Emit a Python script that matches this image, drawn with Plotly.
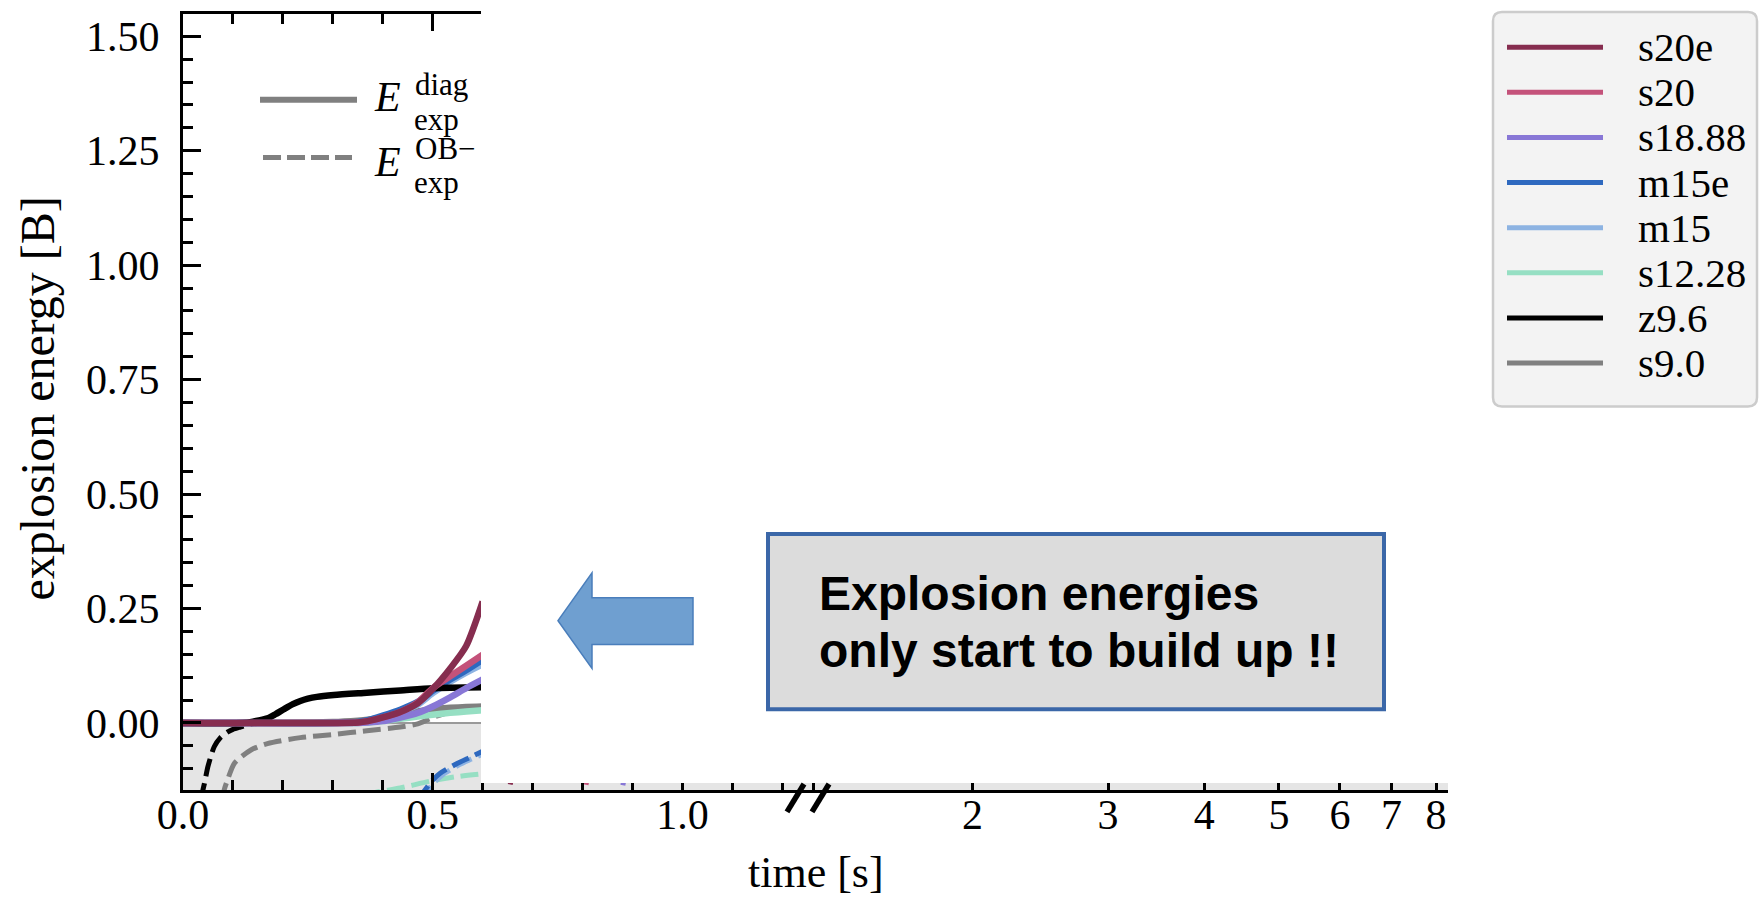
import math
import plotly.graph_objects as go

# ---------------- data ----------------
models = ["s20e", "s20", "s18.88", "m15e", "m15", "s12.28", "z9.6", "s9.0"]
model_colors = ["#862d4f", "#c4527a", "#8877d6", "#2e69bf", "#8db3e2", "#96dfc3", "#000000", "#808080"]

# diagnostic explosion energy E_exp^diag [B] (solid)
t_diag = [0.0, 0.30, 0.35, 0.37, 0.40, 0.435, 0.47, 0.50, 0.535, 0.567, 0.60]
diag_s20e = [0.0, 0.0, 0.001, 0.004, 0.012, 0.024, 0.043, 0.074, 0.119, 0.168, 0.265]
diag_s20 = [0.0, 0.0, 0.001, 0.004, 0.012, 0.024, 0.045, 0.076, 0.102, 0.125, 0.149]
diag_s1888 = [0.0, 0.0, 0.0, 0.001, 0.004, 0.012, 0.022, 0.036, 0.056, 0.076, 0.095]
diag_m15e = [0.0, 0.0, 0.002, 0.006, 0.016, 0.029, 0.046, 0.070, 0.095, 0.115, 0.138]
diag_m15 = [0.0, 0.0, 0.001, 0.004, 0.012, 0.024, 0.040, 0.065, 0.090, 0.110, 0.128]
diag_s1228 = [0.0, 0.0, 0.0, 0.001, 0.004, 0.009, 0.014, 0.018, 0.022, 0.025, 0.028]
diag_s90 = [0.0, 0.002, 0.005, 0.007, 0.012, 0.018, 0.025, 0.030, 0.033, 0.035, 0.036]
t_diag_z96 = [0.0, 0.12, 0.14, 0.169, 0.185, 0.202, 0.22, 0.235, 0.25, 0.268, 0.302, 0.368, 0.435, 0.50, 0.60]
diag_z96 = [0.0, 0.0, 0.003, 0.010, 0.019, 0.030, 0.041, 0.048, 0.053, 0.057, 0.061, 0.066, 0.071, 0.076, 0.078]

# E_exp^OB- [B] (dashed)
t_ob_z96 = [0.036, 0.040, 0.043, 0.050, 0.0625, 0.075, 0.089, 0.10, 0.115, 0.135, 0.16]
ob_z96 = [-0.17, -0.146, -0.132, -0.095, -0.052, -0.032, -0.020, -0.014, -0.009, -0.003, 0.0]
t_ob_s90 = [0.078, 0.0825, 0.089, 0.103, 0.136, 0.169, 0.235, 0.302, 0.368, 0.435, 0.47, 0.50, 0.535, 0.567, 0.60]
ob_s90 = [-0.17, -0.146, -0.125, -0.088, -0.059, -0.045, -0.032, -0.025, -0.017, -0.009, -0.002, 0.012, 0.024, 0.031, 0.035]
t_ob_m15e = [0.47, 0.481, 0.50, 0.515, 0.548, 0.575, 0.60]
ob_m15e = [-0.17, -0.152, -0.125, -0.110, -0.089, -0.075, -0.062]
t_ob_m15 = [0.475, 0.49, 0.50, 0.52, 0.55, 0.575, 0.60]
ob_m15 = [-0.17, -0.148, -0.133, -0.113, -0.093, -0.080, -0.068]
t_ob_s1228 = [0.36, 0.38, 0.435, 0.50, 0.55, 0.60]
ob_s1228 = [-0.16, -0.153, -0.142, -0.126, -0.117, -0.111]
t_ob_s20e = [0.60, 0.63, 0.654, 0.67]
ob_s20e = [-0.40, -0.25, -0.14, -0.06]
t_ob_s20 = [0.75, 0.785, 0.806, 0.82]
ob_s20 = [-0.40, -0.25, -0.14, -0.06]
t_ob_s1888 = [0.82, 0.86, 0.88, 0.895]
ob_s1888 = [-0.40, -0.25, -0.14, -0.06]

y_tickvals = [0.0, 0.25, 0.5, 0.75, 1.0, 1.25, 1.5]
y_ticktext = ["0.00", "0.25", "0.50", "0.75", "1.00", "1.25", "1.50"]
x_lin_tickvals = [0.0, 0.5, 1.0]
x_lin_ticktext = ["0.0", "0.5", "1.0"]
x_log_tickvals = [2, 3, 4, 5, 6, 7, 8]
x_log_ticktext = ["2", "3", "4", "5", "6", "7", "8"]

annotation_lines = ["<b>Explosion energies</b>", "<b>only start to build up !!</b>"]

# ---------------- layout geometry ----------------
W, H = 1764, 899
L, R, T, B = 183, 316, 11, 109
PW, PH = W - L - R, H - T - B
X_BREAK = 812  # px where linear part turns into log part


def X(px):
    return (px - L) / PW


def Y(py):
    return (H - B - py) / PH


SERIF = "Liberation Serif"
fig = go.Figure()

color_of = dict(zip(models, model_colors))
dash_style = "18px,7px"

dashed = [
    ("s9.0", t_ob_s90, ob_s90), ("z9.6", t_ob_z96, ob_z96), ("s12.28", t_ob_s1228, ob_s1228),
    ("m15", t_ob_m15, ob_m15), ("m15e", t_ob_m15e, ob_m15e), ("s18.88", t_ob_s1888, ob_s1888),
    ("s20", t_ob_s20, ob_s20), ("s20e", t_ob_s20e, ob_s20e),
]
for name, tt, ee in dashed:
    fig.add_trace(go.Scatter(x=tt, y=ee, mode="lines", name=name + " OB-", showlegend=False,
                             line=dict(color=color_of[name], width=5, dash=dash_style, shape="spline", smoothing=0.7),
                             hoverinfo="skip"))

solid = [
    ("s9.0", t_diag, diag_s90), ("s12.28", t_diag, diag_s1228), ("m15", t_diag, diag_m15),
    ("m15e", t_diag, diag_m15e), ("z9.6", t_diag_z96, diag_z96), ("s18.88", t_diag, diag_s1888),
    ("s20", t_diag, diag_s20), ("s20e", t_diag, diag_s20e),
]
for name, tt, ee in solid:
    fig.add_trace(go.Scatter(x=tt, y=ee, mode="lines", name=name, showlegend=False,
                             line=dict(color=color_of[name], width=6.5, shape="spline", smoothing=0.7)))

# empty trace to register the log part of the broken axis
fig.add_trace(go.Scatter(x=[], y=[], xaxis="x2", yaxis="y", showlegend=False, hoverinfo="skip"))

tick_font = dict(family=SERIF, size=42, color="black")
common_axis = dict(showline=True, linecolor="black", linewidth=3, mirror="ticks", ticks="inside",
                   tickcolor="black", tickwidth=2.5, showgrid=False, zeroline=False, tickfont=tick_font)

fig.update_layout(
    width=W, height=H, margin=dict(l=L, r=R, t=T, b=B),
    paper_bgcolor="white", plot_bgcolor="white", showlegend=False,
    xaxis=dict(domain=[0, X(X_BREAK)], range=[0, (X_BREAK - L) / 499.4], anchor="y",
               tickvals=x_lin_tickvals, ticktext=x_lin_ticktext, ticklen=17, ticklabelstandoff=-14,
               minor=dict(dtick=0.1, ticks="inside", ticklen=10, tickwidth=2.5, tickcolor="black"),
               **common_axis),
    xaxis2=dict(domain=[X(X_BREAK), 1], type="log",
                range=[0.30103 - (972.5 - X_BREAK) / 770, 0.30103 + (W - R - 972.5) / 770],
                anchor="y", tickvals=x_log_tickvals, ticktext=x_log_ticktext, ticklen=10,
                ticklabelstandoff=-14, **common_axis),
    yaxis=dict(range=[-0.14645, 1.5487], tickvals=y_tickvals, ticktext=y_ticktext, ticklen=18,
               ticklabelstandoff=12,
               minor=dict(dtick=0.05, ticks="inside", ticklen=10, tickwidth=2.5, tickcolor="black"),
               **common_axis),
)

shapes = []
# grey band below zero
shapes.append(dict(type="rect", xref="paper", yref="y", x0=0, x1=1, y0=-0.3, y1=0,
                   fillcolor="#e5e5e5", line=dict(width=0), layer="below"))
shapes.append(dict(type="line", xref="paper", yref="y", x0=0, x1=1, y0=0, y1=0,
                   line=dict(color="#9a9a9a", width=2), layer="below"))
# white cover over the not-yet-shown part of the figure
shapes.append(dict(type="rect", xref="paper", yref="paper", x0=X(481), x1=1.3, y0=Y(783), y1=1.06,
                   fillcolor="white", line=dict(width=0), layer="above"))
# axis break marks
for (xa, ya, xb, yb) in [(787, 812, 804, 784), (812, 812, 829, 784)]:
    shapes.append(dict(type="line", xref="paper", yref="paper", x0=X(xa), y0=Y(ya), x1=X(xb), y1=Y(yb),
                       line=dict(color="black", width=5.5), layer="above"))

# inner legend (line styles)
shapes.append(dict(type="line", xref="paper", yref="paper", x0=X(260), x1=X(357), y0=Y(97), y1=Y(97),
                   line=dict(color="#808080", width=6), layer="above"))
shapes.append(dict(type="line", xref="paper", yref="paper", x0=X(263), x1=X(352), y0=Y(155), y1=Y(155),
                   line=dict(color="#808080", width=5, dash="18px,6px"), layer="above"))

# main legend box (rounded)
lx0, lx1, ly0, ly1, rr = 1493, 1757, 9, 405, 9
path = (f"M {X(lx0 + rr)},{Y(ly0)} L {X(lx1 - rr)},{Y(ly0)} Q {X(lx1)},{Y(ly0)} {X(lx1)},{Y(ly0 + rr)} "
        f"L {X(lx1)},{Y(ly1 - rr)} Q {X(lx1)},{Y(ly1)} {X(lx1 - rr)},{Y(ly1)} "
        f"L {X(lx0 + rr)},{Y(ly1)} Q {X(lx0)},{Y(ly1)} {X(lx0)},{Y(ly1 - rr)} "
        f"L {X(lx0)},{Y(ly0 + rr)} Q {X(lx0)},{Y(ly0)} {X(lx0 + rr)},{Y(ly0)} Z")
shapes.append(dict(type="path", xref="paper", yref="paper", path=path, fillcolor="#f3f3f3",
                   line=dict(color="#cccccc", width=2.5), layer="above"))
row_y0, row_dy = 44.3, 45.3
annotations = []
for i, (name, col) in enumerate(zip(models, model_colors)):
    ry = row_y0 + i * row_dy
    shapes.append(dict(type="line", xref="paper", yref="paper", x0=X(1507), x1=X(1603), y0=Y(ry), y1=Y(ry),
                       line=dict(color=col, width=5), layer="above"))
    annotations.append(dict(xref="paper", yref="paper", x=X(1636), y=Y(ry), xanchor="left", yanchor="middle",
                            text=name, showarrow=False, font=dict(family=SERIF, size=41, color="black")))

# arrow
arrow_pts = [(558, 620), (592, 572), (592, 597), (693, 597), (693, 644), (592, 644), (592, 668)]
arrow_path = "M " + " L ".join(f"{X(px)},{Y(py)}" for px, py in arrow_pts) + " Z"
shapes.append(dict(type="path", xref="paper", yref="paper", path=arrow_path, fillcolor="#6f9fd0",
                   line=dict(color="#4a7ebb", width=1.5), layer="above"))
# text box
shapes.append(dict(type="rect", xref="paper", yref="paper", x0=X(768), x1=X(1384), y0=Y(709), y1=Y(533),
                   fillcolor="#dcdcdc", line=dict(color="#3b67a8", width=4), layer="above"))
for txt, py in zip(annotation_lines, [593, 650]):
    annotations.append(dict(xref="paper", yref="paper", x=X(817), y=Y(py), xanchor="left", yanchor="middle",
                            align="left", text=txt, showarrow=False,
                            font=dict(family="Liberation Sans", size=48, color="black")))

# inner legend labels: italic E with stacked super/subscripts
for (txt, px, py, size, style) in [("E", 373, 94, 42, "italic"), ("diag", 414, 82, 31, "normal"),
                                   ("exp", 413, 117, 31, "normal"), ("E", 373, 160, 42, "italic"),
                                   ("OB\u2212", 414, 146, 31, "normal"), ("exp", 413, 180, 31, "normal")]:
    annotations.append(dict(xref="paper", yref="paper", x=X(px), y=Y(py), xanchor="left", yanchor="middle",
                            text=txt, showarrow=False, borderpad=0,
                            font=dict(family=SERIF, size=size, color="black", style=style)))

# axis titles (x title spans both parts of the broken axis)
annotations.append(dict(xref="paper", yref="paper", x=0.5, y=Y(873), xanchor="center", yanchor="middle",
                        text="time [s]", showarrow=False, font=dict(family=SERIF, size=44, color="black")))
annotations.append(dict(xref="paper", yref="paper", x=X(38), y=Y(397), xanchor="center", yanchor="middle",
                        textangle=-90, text="explosion energy [B]", showarrow=False,
                        font=dict(family=SERIF, size=48, color="black")))

fig.update_layout(shapes=shapes, annotations=annotations)
fig.write_html("out.html")
